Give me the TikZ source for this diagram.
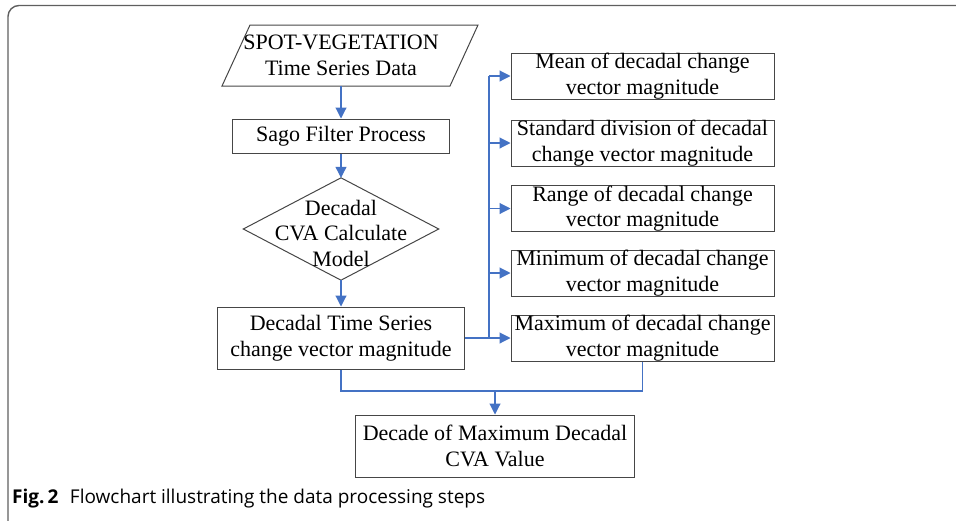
\documentclass[tikz,border=0pt]{standalone}
\usepackage{fontspec}
\setmainfont{Liberation Serif}
\newfontfamily\capfont{Open Sans}
\usetikzlibrary{arrows.meta,calc}
\definecolor{flowblue}{RGB}{68,114,196}
\definecolor{boxgray}{RGB}{70,70,70}
\definecolor{framegray}{RGB}{95,95,95}
\begin{document}
\begin{tikzpicture}[x=1pt,y=-1pt,
  txt/.style={font=\fontsize{22}{25.5}\selectfont, align=center, inner sep=0pt, text=black},
  procbox/.style={txt, draw=boxgray, line width=1pt, rectangle},
  sidebox/.style={procbox, minimum width=263pt, minimum height=46pt},
  shapeline/.style={draw=boxgray, line width=1pt},
  link/.style={draw=flowblue, line width=1.1pt},
  arr/.style={link, -{Triangle[length=11pt,width=11pt]}}
]
\useasboundingbox (0,0) rectangle (956,520);
\clip (0,0) rectangle (956,520);
% outer frame
\draw[framegray, line width=1.4pt, rounded corners=11pt] (8,5.5) rectangle (990,560);

% left column
\node[txt, minimum width=228pt, minimum height=61pt] (input) at (341,55.5) {SPOT-VEGETATION\\Time Series Data};
\draw[shapeline] ($(input.center)+(-91,-30.5)$) -- ($(input.center)+(137,-30.5)$) -- ($(input.center)+(109,30.5)$) -- ($(input.center)+(-119,30.5)$) -- cycle;

\node[procbox, minimum width=217pt, minimum height=34pt] (sago) at (341,136) {Sago Filter Process};

\node[minimum width=195pt, minimum height=102pt, inner sep=0pt] (model) at (341,229) {};
\draw[shapeline] (model.north) -- (model.east) -- (model.south) -- (model.west) -- cycle;
\node[txt] (modeltext) at (341,233) {Decadal\\CVA Calculate\\Model};

\node[procbox, minimum width=247pt, minimum height=62pt] (dts) at (341,338) {Decadal Time Series\\change vector magnitude};

% right column
\node[sidebox] (m1) at (642.5,76) {Mean of decadal change\\vector magnitude};
\node[sidebox] (m2) at (642.5,143) {Standard division of decadal\\change vector magnitude};
\node[sidebox] (m3) at (642.5,208.5) {Range of decadal change\\vector magnitude};
\node[sidebox] (m4) at (642.5,273) {Minimum of decadal change\\vector magnitude};
\node[sidebox] (m5) at (642.5,338) {Maximum of decadal change\\vector magnitude};

% final
\node[procbox, minimum width=279pt, minimum height=62pt] (final) at (495,446) {Decade of Maximum Decadal\\CVA Value};

% connectors
\coordinate (bus) at (489,0);
\coordinate (join) at (495,391);
\draw[arr] (input.south) -- (sago.north);
\draw[arr] (sago.south) -- (model.north);
\draw[arr] (model.south) -- (dts.north);
\draw[link] (dts.east) -- (dts.east -| bus);
\draw[link] (m1.west -| bus) -- (m5.west -| bus);
\foreach \m in {m1,m2,m3,m4,m5}{
  \draw[arr] (\m.west -| bus) -- (\m.west);
}
\draw[link] (dts.south) |- (join) -| (m5.south);
\draw[arr] (join) -- (final.north);

% caption
\node[anchor=base west, inner sep=0pt, font=\capfont\fontsize{19}{22}\selectfont] (caption) at (12,503) {\textbf{Fig.\,2}\hspace{0.6em}Flowchart illustrating the data processing steps};
\end{tikzpicture}
\end{document}
